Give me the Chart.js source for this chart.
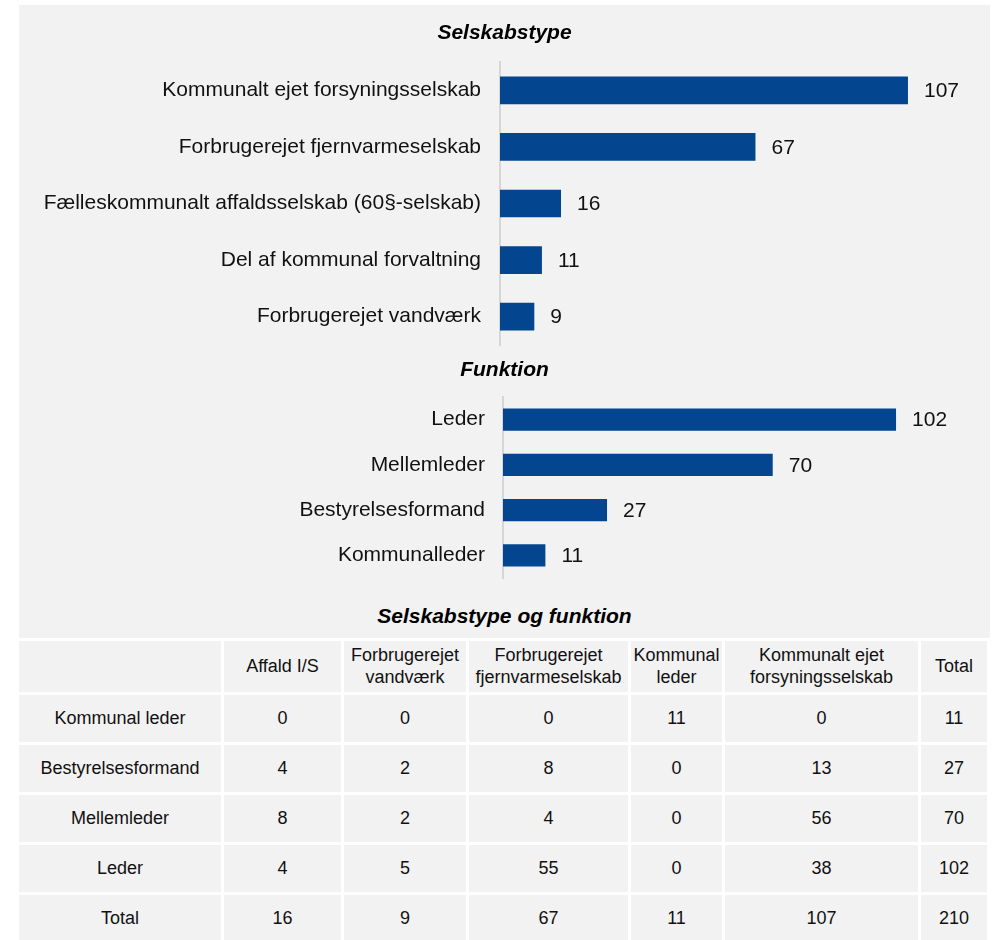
<!DOCTYPE html>
<html lang="da">
<head>
<meta charset="utf-8">
<title>Selskabstype og funktion</title>
<script src="https://cdn.jsdelivr.net/npm/chart.js@4"></script>
<style>
    html, body { margin: 0; padding: 0; background: #fff; overflow: hidden; }
    body { width: 992px; height: 940px; position: relative; font-family: "Liberation Sans", Arial, sans-serif; }
    #panel { position: absolute; left: 19px; top: 5px; width: 971px; height: 940px; background: #f2f2f2; }
    #typeChart { position: absolute; left: 0; top: 5px; }
    #roleChart { position: absolute; left: 0; top: 350px; }
    #tableTitle { position: absolute; left: 0; width: 971px; top: 598px; text-align: center;
        font-size: 21px; line-height: 25px; font-weight: bold; font-style: italic; color: #000; }
    #crossTable { position: absolute; left: -3px; top: 633px; width: 974px; table-layout: fixed;
        border-collapse: separate; border-spacing: 3px; background: #fff; }
    #crossTable td, #crossTable th { background: #f2f2f2; text-align: center; vertical-align: middle;
        font-size: 18px; font-weight: normal; color: #111; padding: 0; height: 47px; }
    #crossTable th { height: 51px; line-height: 21.6px; }
</style>
</head>
<body>
<div id="panel">
    <div id="tableTitle">Selskabstype og funktion</div>
    <table id="crossTable"></table>
</div>
<canvas id="typeChart" width="1009" height="345"></canvas>
<canvas id="roleChart" width="1009" height="235"></canvas>

<script>
// --- data ---
const typeLabels = [
    'Kommunalt ejet forsyningsselskab',
    'Forbrugerejet fjernvarmeselskab',
    'Fælleskommunalt affaldsselskab (60§-selskab)',
    'Del af kommunal forvaltning',
    'Forbrugerejet vandværk'
];
const typeValues = [107, 67, 16, 11, 9];

const roleLabels = ['Leder', 'Mellemleder', 'Bestyrelsesformand', 'Kommunalleder'];
const roleValues = [102, 70, 27, 11];

const tableCols = ['Affald I/S', 'Forbrugerejet vandværk', 'Forbrugerejet fjernvarmeselskab',
    'Kommunal leder', 'Kommunalt ejet forsyningsselskab', 'Total'];
const tableRows = ['Kommunal leder', 'Bestyrelsesformand', 'Mellemleder', 'Leder', 'Total'];
const rowKommunalLeder = [0, 0, 0, 11, 0, 11];
const rowBestyrelse = [4, 2, 8, 0, 13, 27];
const rowMellemleder = [8, 2, 4, 0, 56, 70];
const rowLeder = [4, 5, 55, 0, 38, 102];
const rowTotal = [16, 9, 67, 11, 107, 210];

const FONT = '"Liberation Sans", Arial, sans-serif';
const BAR_COLOR = '#03468f';

// tal ved enden af hver bjælke
const valueLabels = {
    id: 'valueLabels',
    afterDatasetsDraw(chart) {
        const ctx = chart.ctx;
        const meta = chart.getDatasetMeta(0);
        ctx.save();
        ctx.font = '21px ' + FONT;
        ctx.fillStyle = '#111';
        ctx.textAlign = 'left';
        ctx.textBaseline = 'middle';
        meta.data.forEach((bar, i) => {
            ctx.fillText(chart.data.datasets[0].data[i], bar.x + 16, bar.y + 1);
        });
        ctx.restore();
    }
};

function barChart(id, title, labels, values, opts) {
    const ctx = document.getElementById(id).getContext('2d');
    return new Chart(ctx, {
        type: 'bar',
        data: {
            labels: labels,
            datasets: [{
                data: values,
                backgroundColor: BAR_COLOR,
                borderWidth: 0,
                barPercentage: 0.49,
                categoryPercentage: 1
            }]
        },
        options: {
            indexAxis: 'y',
            responsive: false,
            animation: false,
            // samme luft i begge sider, så titlen står midt i panelet
            layout: { padding: { left: opts.side, right: opts.side, bottom: opts.bottom } },
            plugins: {
                legend: { display: false },
                tooltip: { enabled: false },
                title: {
                    display: true,
                    text: title,
                    color: '#000',
                    font: { family: FONT, size: 21, weight: 'bold', style: 'italic' },
                    padding: { top: opts.titleTop, bottom: opts.titleBottom }
                }
            },
            scales: {
                x: { display: false, min: 0, max: opts.max },
                y: {
                    grid: { display: false, drawTicks: false },
                    border: { display: true, color: '#d6d6d6', width: 2 },
                    ticks: { color: '#111', padding: opts.tickPad, font: { family: FONT, size: 21 } },
                    afterFit: (scale) => {
                        // fast aksebredde, ingen ekstra luft over/under
                        scale.width = opts.axisWidth;
                        scale.paddingTop = 0;
                        scale.paddingBottom = 0;
                    }
                }
            }
        },
        plugins: [valueLabels]
    });
}

function renderTable() {
    const table = document.getElementById('crossTable');
    const widths = [202, 117, 122, 159, 91, 193, 66];
    const body = [rowKommunalLeder, rowBestyrelse, rowMellemleder, rowLeder, rowTotal];
    let html = '<colgroup>' + widths.map(w => `<col style="width:${w}px">`).join('') + '</colgroup>';
    html += '<tr><th></th>' + tableCols.map(c => `<th>${c}</th>`).join('') + '</tr>';
    body.forEach((row, i) => {
        html += `<tr><td>${tableRows[i]}</td>` + row.map(v => `<td>${v}</td>`).join('') + '</tr>';
    });
    table.innerHTML = html;
}

document.addEventListener('DOMContentLoaded', () => {
    barChart('typeChart', 'Selskabstype', typeLabels, typeValues,
        { side: 32.4, max: 125, axisWidth: 467.6, tickPad: 19, titleTop: 15.4, titleBottom: 16.4, bottom: 5 });
    barChart('roleChart', 'Funktion', roleLabels, roleValues,
        { side: 43.6, max: 120, axisWidth: 459.4, tickPad: 18, titleTop: 8, titleBottom: 13.8, bottom: 7 });
    renderTable();
});
</script>
</body>
</html>
